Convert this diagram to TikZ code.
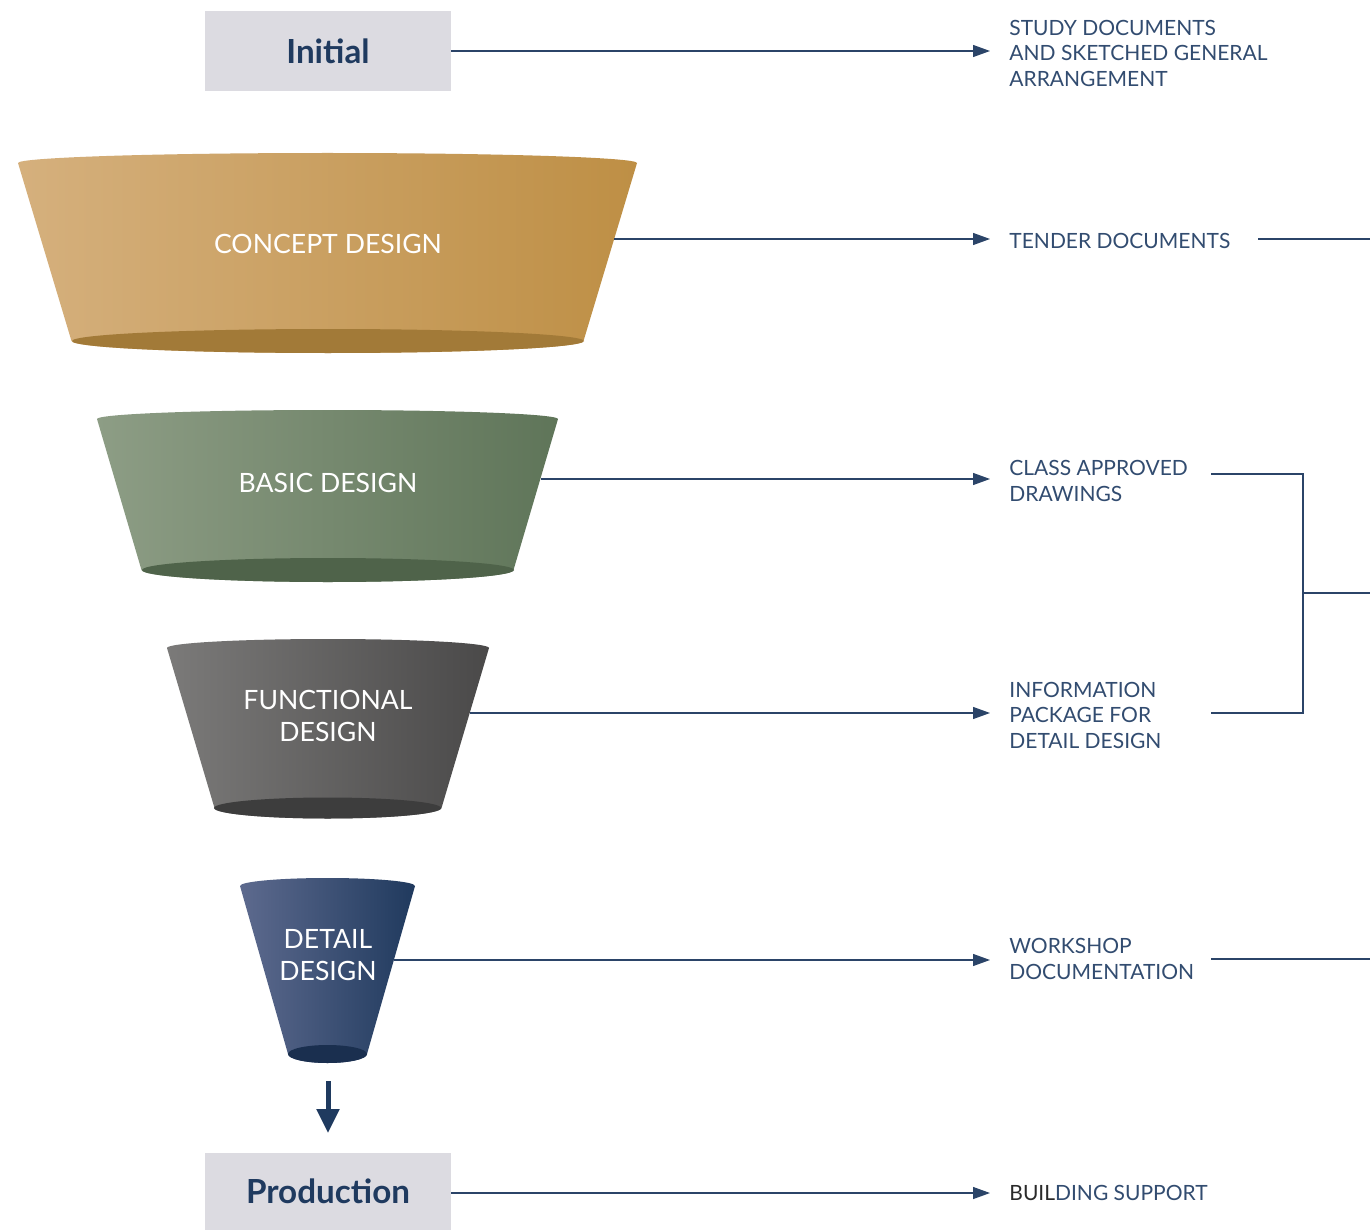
\documentclass[tikz,border=0pt]{standalone}
\usepackage{fontspec}
\setmainfont{Lato}
\usetikzlibrary{arrows.meta,calc}
\definecolor{navy}{HTML}{1F3A5F}
\definecolor{linec}{HTML}{2B4468}
\definecolor{txtc}{HTML}{324C70}
\definecolor{boxc}{HTML}{DCDBE1}
\definecolor{caL}{HTML}{D5B07D}\definecolor{caR}{HTML}{BE8F45}\definecolor{caB}{HTML}{A27A38}
\definecolor{baL}{HTML}{8D9D85}\definecolor{baR}{HTML}{5F7559}\definecolor{baB}{HTML}{4F634A}
\definecolor{fuL}{HTML}{7B7A79}\definecolor{fuR}{HTML}{4A4949}\definecolor{fuB}{HTML}{3D3D3D}
\definecolor{deL}{HTML}{5D6A8E}\definecolor{deR}{HTML}{203A5E}\definecolor{deB}{HTML}{1A2F4F}
% #1 cx, #2 top y, #3 top rx (pt), #4 top ry (pt), #5 bottom y, #6 bottom rx (pt), #7 bottom ry (pt), #8 left, #9 right
\newcommand{\funnelbody}[9]{%
  \shade[left color=#8, right color=#9]
    ($(#1,#2)+(-#3,0)$) arc[start angle=180, end angle=0, x radius=#3, y radius=#4]
    -- ($(#1,#5)+(#6,0)$) arc[start angle=0, end angle=-180, x radius=#6, y radius=#7] -- cycle;}
\begin{document}
\begin{tikzpicture}[x=0.5pt,y=-0.5pt,
  box/.style={fill=boxc, minimum width=123pt, minimum height=40pt, inner sep=0pt,
    text=navy, font=\fontsize{16.6}{19}\selectfont\bfseries},
  ftext/.style={text=white, align=center, inner sep=0pt, font=\fontsize{13.3}{16}\selectfont},
  rtext/.style={anchor=west, align=left, inner xsep=9.5pt, inner ysep=0pt, text=txtc,
    font=\fontsize{10.5}{12.75}\selectfont},
  conn/.style={draw=linec, line width=0.6pt, -{Triangle[length=8.5pt,width=6pt]}},
  plain/.style={draw=linec, line width=0.6pt}]
\useasboundingbox[fill=white] (0,0) rectangle (1370,1230);

% boxes
\node[box] (init) at (328,51) {\raisebox{-0.5pt}{Initial}};
\node[box, minimum height=38.5pt] (prod) at (328,1191.5) {\raisebox{-2pt}{Production}};

% funnels
\funnelbody{327.5}{163}{154.75pt}{5pt}{341}{128pt}{6pt}{caL}{caR}
\fill[caB] (328,341) ellipse[x radius=128pt, y radius=6pt];
\funnelbody{327.5}{419}{115.25pt}{4.5pt}{570}{93pt}{6pt}{baL}{baR}
\fill[baB] (328,570) ellipse[x radius=93pt, y radius=6pt];
\funnelbody{328}{648}{80.5pt}{4.5pt}{808}{56.75pt}{5.25pt}{fuL}{fuR}
\fill[fuB] (327.5,808) ellipse[x radius=56.75pt, y radius=5.25pt];
\funnelbody{327.5}{886}{43.75pt}{4pt}{1054}{19.75pt}{4.5pt}{deL}{deR}
\fill[deB] (327.5,1054) ellipse[x radius=19.75pt, y radius=4.5pt];

\node[ftext] (concept) at (328,244) {CONCEPT DESIGN};
\node[ftext] (basic) at (328,483) {BASIC DESIGN};
\node[ftext] (functional) at (328,716) {FUNCTIONAL\\DESIGN};
\node[ftext] (detail) at (328,955) {DETAIL\\DESIGN};

% edge points on funnels
\coordinate (ce) at (614.4,239);
\coordinate (be) at (540.5,479);
\coordinate (fe) at (469.5,713);
\coordinate (de) at (393.9,960);

% right texts
\node[rtext] (study) at (990,53) {STUDY DOCUMENTS\\AND SKETCHED GENERAL\\ARRANGEMENT};
\node[rtext] (tender) at (990,241) {TENDER DOCUMENTS};
\node[rtext] (classap) at (990,481) {CLASS APPROVED\\DRAWINGS};
\node[rtext] (info) at (990,715) {INFORMATION\\PACKAGE FOR\\DETAIL DESIGN};
\node[rtext] (workshop) at (990,959) {WORKSHOP\\DOCUMENTATION};
\node[rtext] (building) at (990,1193) {\textcolor[HTML]{2A2A2A}{BUIL}DING SUPPORT};

% connectors
\draw[conn] (init.east) -- (init.east -| study.west);
\draw[conn] (ce) -- (ce -| tender.west);
\draw[conn] (be) -- (be -| classap.west);
\draw[conn] (fe) -- (fe -| info.west);
\draw[conn] (de) -- (de -| workshop.west);
\draw[conn] (prod.east |- building.west) -- (building.west);

% outgoing lines
\coordinate (t1) at (1258,239); \coordinate (t2) at (1370,239);
\draw[plain] (t1) -- (t2);
\coordinate (b1) at (1211,474); \coordinate (b2) at (1211,713);
\coordinate (bj) at (1303,593); \coordinate (bo) at (1370,593);
\draw[plain] (b1) -| (bj) |- (b2);
\draw[plain] (bj) -- (bo);
\coordinate (w1) at (1211,959); \coordinate (w2) at (1370,959);
\draw[plain] (w1) -- (w2);

% down arrow
\coordinate (da) at (328,1081); \coordinate (db) at (328,1133);
\draw[draw=navy, line width=2.5pt, -{Triangle[length=12pt,width=11pt]}] (da) -- (db);
\end{tikzpicture}
\end{document}
